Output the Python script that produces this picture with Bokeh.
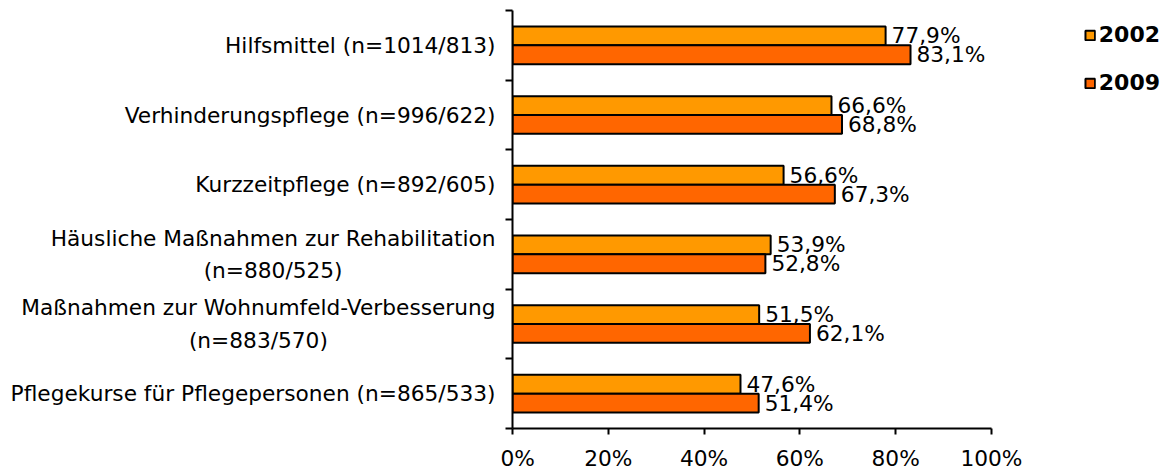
from bokeh.plotting import figure
from bokeh.layouts import row
from bokeh.models import (ColumnDataSource, Range1d, FixedTicker, LabelSet,
                          Label, Legend, LegendItem)
from bokeh.core.properties import value
from bokeh.embed import file_html
from bokeh.resources import INLINE
import numpy as np

# Categories from top to bottom
categories = [
    "Hilfsmittel (n=1014/813)",
    "Verhinderungspflege (n=996/622)",
    "Kurzzeitpflege (n=892/605)",
    "Häusliche Maßnahmen zur Rehabilitation\n(n=880/525)",
    "Maßnahmen zur Wohnumfeld-Verbesserung\n(n=883/570)",
    "Pflegekurse für Pflegepersonen (n=865/533)",
]
values_2002 = [77.9, 66.6, 56.6, 53.9, 51.5, 47.6]
values_2009 = [83.1, 68.8, 67.3, 52.8, 62.1, 51.4]
series_names = ["2002", "2009"]
x_ticks = [0, 20, 40, 60, 80, 100]
x_tick_labels = ["0%", "20%", "40%", "60%", "80%", "100%"]

FONT = "DejaVu Sans"
SIZE = "21.7px"
COLORS = ["#FF9900", "#FF6600"]
BAR_H = 0.27
LABEL_W = 500          # width of the panel holding the category names
FRAME_H = 418
TOP = 10
BOTTOM = 43

n = len(categories)
centers = n - 1 - np.arange(n) + 0.5   # first category on top


def fmt(v):
    return f"{v:.1f}%".replace(".", ",")


y_range = Range1d(0, n)

# main chart
p = figure(frame_width=660, frame_height=FRAME_H,
           min_border_left=12, min_border_top=TOP, min_border_right=0,
           min_border_bottom=30,
           x_range=Range1d(0, 137.8), y_range=y_range,
           output_backend="svg", toolbar_location=None)
p.outline_line_color = None
p.xgrid.visible = False
p.ygrid.visible = False

renderers = []
for k, vals in enumerate([values_2002, values_2009]):
    ys = centers + (BAR_H / 2 if k == 0 else -BAR_H / 2)
    src = ColumnDataSource(dict(y=ys, v=vals, lab=[fmt(v) for v in vals]))
    r = p.hbar(y="y", right="v", left=0, height=BAR_H, source=src,
               fill_color=COLORS[k], line_color="black", line_width=2)
    renderers.append(r)
    p.add_layout(LabelSet(x="v", y="y", text="lab", source=src,
                          x_offset=6, text_baseline="middle",
                          text_font=value(FONT), text_font_size=SIZE,
                          text_color="black"))

# x axis
xa = p.xaxis[0]
xa.ticker = FixedTicker(ticks=x_ticks, minor_ticks=[])
xa.major_label_overrides = dict(zip(x_ticks, x_tick_labels))
xa.bounds = (0, 100)
xa.axis_line_width = 2
xa.major_tick_line_width = 2
xa.major_tick_in = 0
xa.major_tick_out = 6
xa.major_label_standoff = 11
xa.major_label_text_font = FONT
xa.major_label_text_font_size = SIZE
xa.major_label_text_color = "black"

# y axis: tick marks at band boundaries only
ya = p.yaxis[0]
ya.ticker = FixedTicker(ticks=list(range(n + 1)), minor_ticks=[])
ya.axis_line_width = 2
ya.major_tick_line_width = 2
ya.major_tick_in = 0
ya.major_tick_out = 7
ya.major_label_standoff = 0
ya.major_label_text_font_size = "0px"
ya.major_label_text_color = None

legend = Legend(items=[LegendItem(label=nm, renderers=[r])
                       for nm, r in zip(series_names, renderers)],
                location="top_right", margin=12, padding=0,
                glyph_width=12, glyph_height=12, label_standoff=3,
                spacing=23, border_line_color=None,
                background_fill_alpha=0,
                label_text_font=FONT, label_text_font_size="22px",
                label_text_font_style="bold", label_text_color="black")
p.add_layout(legend)

# category names panel, sharing the vertical range of the chart
names = figure(frame_width=LABEL_W, frame_height=FRAME_H,
               min_border_left=0, min_border_right=0, min_border_top=TOP,
               min_border_bottom=BOTTOM,
               x_range=Range1d(0, LABEL_W), y_range=y_range,
               x_axis_type=None, y_axis_type=None,
               output_backend="svg", toolbar_location=None)
names.outline_line_color = None
names.xgrid.visible = False
names.ygrid.visible = False
for c, lab in zip(centers, categories):
    # block right-aligned next to the axis, lines centred within it
    names.add_layout(Label(x=LABEL_W - 5, y=float(c), text=lab,
                           anchor="center_right", text_align="center",
                           text_baseline="middle", text_line_height=1.3,
                           text_font=FONT, text_font_size=SIZE,
                           text_color="black"))

layout = row(names, p, spacing=0)
open("out.html", "w").write(file_html(layout, INLINE))
